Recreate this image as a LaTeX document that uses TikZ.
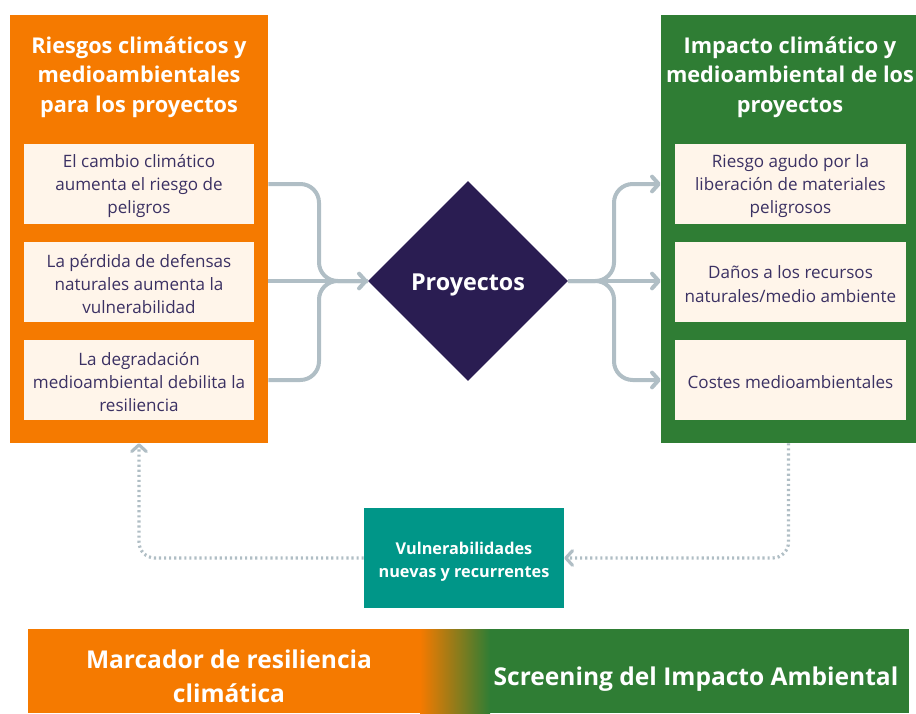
\documentclass[tikz,border=0pt]{standalone}
\usepackage{fontspec}
\setmainfont{Open Sans}
\usetikzlibrary{shapes.geometric,arrows.meta}
\definecolor{orng}{HTML}{F57A00}
\definecolor{grn}{HTML}{2F7D34}
\definecolor{cream}{HTML}{FFF5EA}
\definecolor{ink}{HTML}{3B3163}
\definecolor{navy}{HTML}{2A1D52}
\definecolor{tealc}{HTML}{009688}
\definecolor{conn}{HTML}{B0BEC5}
\begin{document}
\begin{tikzpicture}[x=0.75pt,y=-0.75pt,
  panel/.style={draw=none,inner sep=0,minimum height=321pt},
  paneltitle/.style={align=center,text=white,inner sep=0,font=\bfseries\fontsize{16.3}{22}\selectfont},
  item/.style={fill=cream,inner sep=0,minimum width=172.5pt,minimum height=60pt,align=center,text=ink,font=\fontsize{12.8}{17.5}\selectfont},
  itemtext/.style={align=center,text=ink,inner sep=0,font=\fontsize{12.8}{17.5}\selectfont},
  connline/.style={draw=conn,line width=3pt,rounded corners=14pt},
  tip/.style={-{Straight Barb[length=5pt,width=11pt,round]}},
  dotline/.style={draw=conn,line width=2.4pt,dash pattern=on 1.6pt off 2.2pt,rounded corners=12pt},
  barpart/.style={draw=none,inner sep=0,minimum height=63pt},
  bartext/.style={align=center,text=white,inner sep=0,font=\bfseries\fontsize{18.4}{25.5}\selectfont}]
\useasboundingbox (0,0) rectangle (916,713);
% panels
\node[panel,fill=orng,minimum width=193.5pt] (lp) at (139,229) {};
\node[panel,fill=grn,minimum width=191.25pt] (rp) at (788.5,229) {};
\node[paneltitle] (lt) at (139,77) {Riesgos climáticos y\\medioambientales\\para los proyectos};
\node[paneltitle] (rt) at (790,77) {Impacto climático y\\medioambiental de los\\proyectos};
% items
\node[item] (l1) at (139,184) {};
\node[item] (l2) at (139,282) {};
\node[item] (l3) at (139,380) {};
\node[item,minimum width=173.25pt] (r1) at (790.5,184) {};
\node[item,minimum width=173.25pt] (r2) at (790.5,282) {};
\node[item,minimum width=173.25pt] (r3) at (790.5,380) {};
\node[itemtext] (l1t) at (139,186) {El cambio climático\\aumenta el riesgo de\\peligros};
\node[itemtext] (l2t) at (139,284) {La pérdida de defensas\\naturales aumenta la\\vulnerabilidad};
\node[itemtext] (l3t) at (139,382) {La degradación\\medioambiental debilita la\\resiliencia};
\node[itemtext] (r1t) at (790.5,186) {Riesgo agudo por la\\liberación de materiales\\peligrosos};
\node[itemtext] (r2t) at (790.5,284) {Daños a los recursos\\naturales/medio ambiente};
\node[itemtext] (r3t) at (790.5,382) {Costes medioambientales};
% diamond
\node[diamond,fill=navy,inner sep=0,minimum width=150pt,minimum height=150pt] (dia) at (468,281) {};
\node[text=white,inner sep=0,font=\bfseries\fontsize{17.5}{20}\selectfont] (diat) at (468,285) {Proyectos};
% connectors left
\draw[connline] (lp.east |- l1) -- (319,184) -- (319,281) -- (dia.west);
\draw[connline] (lp.east |- l3) -- (319,380) -- (319,281) -- (dia.west);
\draw[connline,tip] (lp.east |- dia.west) -- (dia.west);
% connectors right
\draw[connline,tip] (dia.east) -- (614,281) -- (614,184) -- (rp.west |- r1);
\draw[connline,tip] (dia.east) -- (rp.west |- dia.east);
\draw[connline,tip] (dia.east) -- (614,281) -- (614,380) -- (rp.west |- r3);
% vulnerability box
\node[fill=tealc,inner sep=0,minimum width=150pt,minimum height=75pt] (vul) at (464,558) {};
\node[align=center,text=white,inner sep=0,font=\bfseries\fontsize{12.2}{17}\selectfont] (vult) at (464,562) {Vulnerabilidades\\nuevas y recurrentes};
\draw[dotline,tip] (rp.south) -- (788.5,558) -- (vul.east);
\draw[dotline,tip] (vul.west) -- (139,558) -- (lp.south);
% bottom bar
\node[barpart,fill=orng,minimum width=294pt] (bl) at (224,671) {};
\node[barpart,left color=orng,right color=grn,minimum width=52.5pt] (bm) at (455,671) {};
\node[barpart,fill=grn,minimum width=314.25pt] (br) at (699.5,671) {};
\node[bartext] (bt1) at (229,676) {Marcador de resiliencia\\climática};
\node[bartext] (bt2) at (696,679) {Screening del Impacto Ambiental};
\end{tikzpicture}
\end{document}
